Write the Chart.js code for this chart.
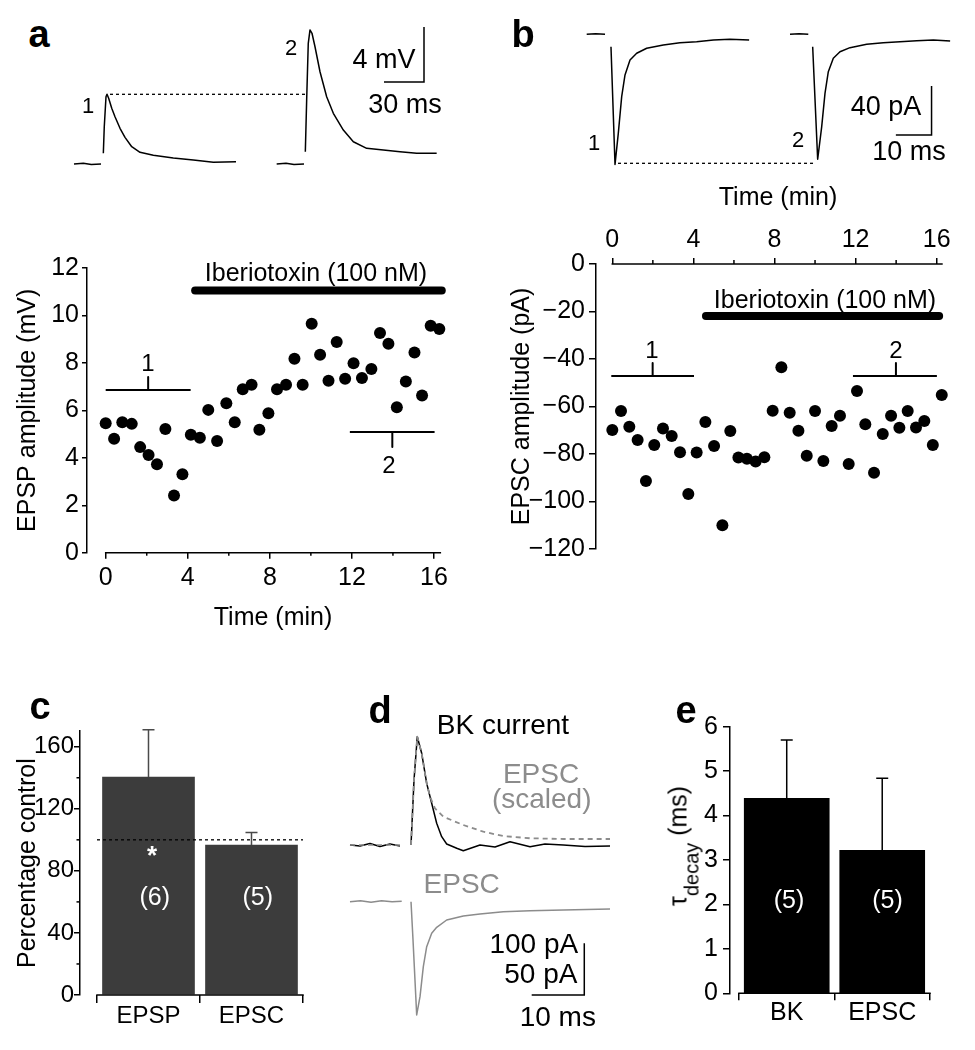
<!DOCTYPE html>
<html><head><meta charset="utf-8">
<script src="https://cdn.jsdelivr.net/npm/chart.js@4.4.1/dist/chart.umd.min.js"></script>
<style>
html,body{margin:0;padding:0;background:#fff}
body{width:975px;height:1050px;position:relative;overflow:hidden;font-family:"Liberation Sans",Arial,Helvetica,sans-serif}
canvas{position:absolute}
.t{position:absolute;transform:translate(-50%,-50%);white-space:nowrap;line-height:1;font-size:25px;color:#000;z-index:5}
.L{font-weight:bold;font-size:38px}
.w{color:#fff}
.g{color:#8c8c8c}
.s{font-size:27px}
.d{font-size:28px}
</style></head><body>

<div class="t L" style="left:39px;top:33.7px">a</div>
<div class="t L" style="left:523px;top:34px">b</div>
<div class="t L" style="left:40px;top:705.7px">c</div>
<div class="t L" style="left:380px;top:710px">d</div>
<div class="t L" style="left:686px;top:709.7px">e</div>

<div class="t" style="left:88px;top:106px;font-size:22px">1</div>
<div class="t" style="left:291px;top:48px;font-size:22px">2</div>
<div class="t s" style="left:384px;top:59px">4 mV</div>
<div class="t s" style="left:405px;top:104px">30 ms</div>
<div class="t" style="left:316px;top:271.5px">Iberiotoxin (100 nM)</div>
<div class="t" style="left:148px;top:363px;font-size:24px">1</div>
<div class="t" style="left:389px;top:465px;font-size:24px">2</div>

<div class="t" style="left:594px;top:143px;font-size:22px">1</div>
<div class="t" style="left:798px;top:140px;font-size:22px">2</div>
<div class="t s" style="left:886px;top:106px">40 pA</div>
<div class="t s" style="left:909px;top:151px">10 ms</div>
<div class="t" style="left:825px;top:299px">Iberiotoxin (100 nM)</div>
<div class="t" style="left:652px;top:350px;font-size:24px">1</div>
<div class="t" style="left:896px;top:350px;font-size:24px">2</div>

<div class="t w" style="left:152px;top:855px;font-size:26px;font-weight:bold">*</div>
<div class="t w" style="left:154.7px;top:896px">(6)</div>
<div class="t w" style="left:257.8px;top:896px">(5)</div>

<div class="t d" style="left:503px;top:725px">BK current</div>
<div class="t d g" style="left:541px;top:774px">EPSC</div>
<div class="t d g" style="left:541.7px;top:799px">(scaled)</div>
<div class="t d g" style="left:461.7px;top:884px">EPSC</div>
<div class="t d" style="left:533.8px;top:944px">100 pA</div>
<div class="t d" style="left:540.8px;top:974px">50 pA</div>
<div class="t d" style="left:557.8px;top:1016.7px">10 ms</div>

<div class="t w" style="left:789px;top:899px">(5)</div>
<div class="t w" style="left:887.5px;top:899px">(5)</div>
<div class="t" style="left:678px;top:846px;transform:translate(-50%,-50%) rotate(-90deg)">τ<span style="font-size:20px;position:relative;top:12px">decay</span> (ms)</div>

<script>
// ---------- DATA ----------
// Panel a: EPSP amplitude vs time
const timeA = [0,0.41,0.81,1.27,1.68,2.09,2.50,2.91,3.33,3.74,4.15,4.59,5.00,5.43,5.88,6.29,6.68,7.11,7.49,7.93,8.35,8.79,9.20,9.60,10.04,10.45,10.86,11.26,11.67,12.08,12.49,12.95,13.37,13.78,14.19,14.63,15.05,15.42,15.84,16.26];
const epspA = [5.46,4.80,5.50,5.43,4.45,4.12,3.73,5.21,2.41,3.31,4.97,4.85,6.02,4.71,6.30,5.50,6.89,7.08,5.18,5.88,6.89,7.08,8.17,7.08,9.65,8.34,7.25,8.88,7.33,7.99,7.36,7.74,9.26,8.81,6.13,7.22,8.44,6.63,9.57,9.43];
const ticksA = [0,4,8,12,16];
const minorA = [2,6,10,14];
const ibtxA = [[4.36,11.05],[16.38,11.05]];
const brk1A = [[0,6.86],[2.07,6.86],[2.07,7.41],[2.07,6.86],[4.14,6.86]];
const brk2A = [[11.9,5.09],[13.97,5.09],[13.97,4.46],[13.97,5.09],[16.03,5.09]];

// Panel b: EPSC amplitude vs time
const timeB = [0,0.43,0.84,1.25,1.66,2.07,2.50,2.93,3.34,3.75,4.16,4.59,5.02,5.43,5.82,6.22,6.64,7.07,7.50,7.91,8.34,8.75,9.18,9.59,10.00,10.41,10.82,11.23,11.66,12.07,12.48,12.91,13.34,13.75,14.16,14.57,14.98,15.39,15.81,16.25];
const epscB = [-69.9,-61.9,-68.5,-74.1,-91.4,-76.2,-69.3,-72.4,-79.3,-96.8,-79.4,-66.5,-76.6,-110.0,-70.3,-81.5,-82.0,-83.2,-81.4,-61.8,-43.5,-62.6,-70.2,-80.7,-61.9,-82.9,-68.2,-63.9,-84.2,-53.5,-67.5,-87.9,-71.6,-63.9,-68.9,-61.9,-68.8,-66.1,-76.2,-55.2];
const ticksB = [0,4,8,12,16];
const minorB = [2,6,10,14];
const ibtxB = [[4.62,-21.9],[16.12,-21.9]];
const brk1B = [[-0.05,-47.2],[1.99,-47.2],[1.99,-41.7],[1.99,-47.2],[4.03,-47.2]];
const brk2B = [[11.87,-47.2],[13.99,-47.2],[13.99,-41.7],[13.99,-47.2],[16.01,-47.2]];

// Panel a traces (ms, mV)
const a1Pre = [[0,0],[7,0.05],[13,-0.03],[20.25,0]];
const a1 = [[22.0,0.78],[22.7,2.71],[24.0,4.89],[24.75,5.07],[26.0,4.78],[28.3,4.05],[30.75,3.44],[34.5,2.60],[38.25,1.94],[43.3,1.26],[49.5,0.85],[59.5,0.63],[74.5,0.44],[89.5,0.29],[104.5,0.12],[121.5,0.17]];
const a2Pre = [[152,0],[159,0.05],[165,-0.03],[172.5,0]];
const a2 = [[173.5,0.89],[174.5,4.65],[175.7,8.78],[177.0,9.75],[178.5,9.51],[180.75,8.53],[184.5,6.71],[189.5,4.89],[194.5,3.69],[202.0,2.47],[209.5,1.62],[219.5,1.14],[232.0,1.02],[244.5,0.89],[257.0,0.78],[272.0,0.78]];
const aDot = [[27,5.07],[173.25,5.07]];
const aScale = [[232.5,5.96],[262.5,5.96],[262.5,9.96]]; // 30 ms, 4 mV

// Panel b traces (ms, pA)
const b1Pre = [[0,0],[2.5,0.4],[5.13,0]];
const b1 = [[6.8,-10.1],[7.93,-106.3],[8.85,-80.8],[9.8,-50.9],[10.73,-33.2],[12.13,-21.0],[14.0,-15.5],[16.8,-11.4],[21.46,-8.7],[26.1,-6.9],[30.8,-6.0],[35.5,-4.65],[40.1,-4.1],[45.5,-4.65]];
const b2Pre = [[56.95,0],[59.5,0.4],[62.07,0]];
const b2 = [[63.3,-10.1],[64.7,-102.0],[65.83,-75.4],[66.75,-48.2],[67.68,-30.5],[69.08,-19.6],[70.95,-14.2],[73.75,-10.9],[78.43,-8.2],[83.08,-6.9],[87.76,-6.0],[92.44,-5.2],[97.1,-4.65],[101.8,-5.5]];
const bDot = [[8.77,-105.3],[63.95,-105.3]];
const bScale = [[86.6,-82.2],[96.6,-82.2],[96.6,-42.2]]; // 10 ms, 40 pA

// Panel c: percentage of control
const pctCats = ['EPSP','EPSC'];
const pctMean = [140.5,96.6];
const pctErr = [30.5,8.2];
const pctTicks = [0,40,80,120,160];
const pctMinor = [20,60,100,140];

// Panel d traces (ms; BK pA / EPSC pA)
const dBKPre = [[0,0],[1.9,-1.9],[3.8,2.9],[5.7,-2.9],[7.6,1.9],[9.5,-1.9]];
const dBK = [[11.6,0],[12.17,125.7],[12.79,209.5],[13.63,177.4],[14.58,119.3],[15.53,80.7],[16.48,42.0],[17.43,16.1],[18.38,1.9],[20.29,-6.4],[21.54,-11.0],[24.71,0],[27.57,-3.9],[30.42,6.4],[34.22,-3.3],[37.07,1.9],[40.55,0],[44.68,-2.9],[49.43,-1.9]];
const dScaledPre = [[0,0],[9.5,0]];
const dScaled = [[11.6,0],[12.17,125.7],[12.79,209.5],[13.63,177.4],[14.58,119.3],[15.21,93.4],[16.16,71.0],[17.74,54.7],[21.54,38.7],[25.34,25.7],[29.14,17.4],[34.22,13.0],[40.55,11.6],[49.43,11.6]];
const dEPSCPre = [[0,0],[2,1],[4,-0.5],[6,0.8],[8,0],[9.83,0.5]];
const dEPSC = [[11.6,0],[11.98,-37.0],[12.68,-109.6],[13.31,-91.9],[13.94,-62.9],[14.58,-43.5],[15.53,-30.6],[16.48,-24.8],[18.38,-17.7],[21.54,-13.8],[24.71,-11.9],[29.14,-9.7],[34.22,-8.7],[40.55,-8.0],[49.43,-7.1]];
const dScale = [[34.54,-90.2],[44.54,-90.2],[44.54,-40.2]]; // 10 ms, 50 pA (EPSC)

// Panel e: decay time constants
const tauCats = ['BK','EPSC'];
const tauMean = [4.39,3.22];
const tauErr = [1.31,1.62];

// ---------- HELPERS ----------
const FONT = '"Liberation Sans", Arial, Helvetica, sans-serif';
Chart.defaults.font.family = FONT;
Chart.defaults.font.size = 25;
Chart.defaults.color = '#000';
Chart.defaults.animation = false;
Chart.defaults.responsive = false;
Chart.defaults.maintainAspectRatio = false;
Chart.defaults.plugins.legend.display = false;
Chart.defaults.plugins.tooltip.enabled = false;
Chart.defaults.events = [];

const axisDeco = {
  id: 'axisDeco',
  afterDraw(chart, args, o) {
    const ctx = chart.ctx;
    ctx.save();
    ctx.strokeStyle = '#000';
    ctx.lineWidth = 1.5;
    (o.lines || []).forEach(l => {
      const s = chart.scales[l.axis];
      const y = s.position === 'top' ? s.bottom : s.top;
      ctx.beginPath();
      ctx.moveTo(s.getPixelForValue(l.from) - 0.75, y);
      ctx.lineTo(s.getPixelForValue(l.to) + 0.75, y);
      ctx.stroke();
    });
    (o.minor || []).forEach(m => {
      const s = chart.scales[m.axis];
      m.values.forEach(v => {
        const p = s.getPixelForValue(v);
        ctx.beginPath();
        if (s.isHorizontal()) {
          const y = s.position === 'top' ? s.bottom : s.top;
          const d = s.position === 'top' ? -m.len : m.len;
          ctx.moveTo(p, y); ctx.lineTo(p, y + d);
        } else {
          ctx.moveTo(s.right, p); ctx.lineTo(s.right - m.len, p);
        }
        ctx.stroke();
      });
    });
    ctx.restore();
  }
};
const errBars = {
  id: 'errBars',
  afterDatasetsDraw(chart, args, o) {
    if (!o.err) return;
    const meta = chart.getDatasetMeta(0);
    const ys = chart.scales.y;
    const ctx = chart.ctx;
    ctx.save();
    ctx.strokeStyle = o.color; ctx.lineWidth = o.width;
    meta.data.forEach((el, i) => {
      const v = chart.data.datasets[0].data[i].y;
      const top = ys.getPixelForValue(v + o.err[i]);
      ctx.beginPath();
      ctx.moveTo(el.x, el.y); ctx.lineTo(el.x, top);
      ctx.moveTo(el.x - o.cap, top); ctx.lineTo(el.x + o.cap, top);
      ctx.stroke();
    });
    ctx.restore();
  }
};
Chart.register(axisDeco, errBars);

function mk(left, top, w, h) {
  const c = document.createElement('canvas');
  c.width = w; c.height = h;
  c.style.left = left + 'px'; c.style.top = top + 'px';
  c.style.width = w + 'px'; c.style.height = h + 'px';
  document.body.insertBefore(c, document.body.firstChild);
  return c.getContext('2d');
}
function ln(pairs, color, width, extra) {
  return Object.assign({
    data: pairs.map(p => ({x: p[0], y: p[1]})),
    showLine: true, pointRadius: 0, borderColor: color, backgroundColor: color,
    borderWidth: width, fill: false, tension: 0, clip: false,
    borderJoinStyle: 'round'
  }, extra || {});
}
function pts(xs, ys) {
  return {data: xs.map((x, i) => ({x, y: ys[i]})), pointRadius: 6, pointBackgroundColor: '#000',
          backgroundColor: '#000', pointBorderWidth: 0, borderWidth: 0, clip: false, showLine: false};
}
const gridT = (len) => ({display: true, drawOnChartArea: false, drawTicks: true, tickLength: len, color: '#000', tickColor: '#000', tickWidth: 1.5, lineWidth: 1.5});
const tickFont = (sz) => ({size: sz || 25, lineHeight: 1});
const setTicks = (arr) => (s) => { s.ticks = arr.map(v => ({value: v})); };
const minus = v => v < 0 ? '\u2212' + Math.abs(v) : String(v);
const hidden = (min, max, extra) => Object.assign({type: 'linear', display: false, min, max}, extra || {});

// ---------- PANEL a : traces ----------
new Chart(mk(60, 0, 410, 190), {
  type: 'scatter',
  data: {datasets: [
    ln(a1Pre, '#000', 1.5), ln(a1, '#000', 1.5), ln(a2Pre, '#000', 1.5), ln(a2, '#000', 1.5),
    ln(aDot, '#000', 1.3, {borderDash: [3, 3]}),
    ln(aScale, '#000', 1.5, {borderJoinStyle: 'miter'})
  ]},
  options: {layout: {padding: 0}, scales: {x: hidden(-10.5, 297), y: hidden(-1.89, 11.93)}}
});

// ---------- PANEL a : time course ----------
new Chart(mk(0, 240, 480, 400), {
  type: 'scatter',
  data: {datasets: [
    pts(timeA, epspA),
    ln(ibtxA, '#000', 8, {borderCapStyle: 'round'}),
    ln(brk1A, '#000', 2), ln(brk2A, '#000', 2)
  ]},
  options: {
    layout: {padding: {left: 0, top: 28, right: 21, bottom: 9.5}},
    scales: {
      x: {type: 'linear', min: -0.911, max: 17.22, afterFit: s => { s.height = 77.8; }, afterBuildTicks: setTicks(ticksA),
          border: {display: false}, grid: gridT(6), ticks: {padding: 6.5, font: tickFont()},
          title: {display: true, text: 'Time (min)', font: {size: 25, lineHeight: 1}, padding: {top: 0, bottom: 0}}},
      y: {type: 'linear', min: 0, max: 12, afterFit: s => { s.width = 87; }, ticks: {stepSize: 2, padding: 3, font: tickFont()},
          border: {display: true, color: '#000', width: 1.5}, grid: gridT(5),
          title: {display: true, text: 'EPSP amplitude (mV)', font: {size: 25, lineHeight: 1}, padding: {top: 15.5, bottom: 0}}}
    },
    plugins: {axisDeco: {lines: [{axis: 'x', from: 0, to: 16.31}], minor: [{axis: 'x', values: minorA, len: 3}]}}
  }
});

// ---------- PANEL b : traces ----------
new Chart(mk(560, 0, 415, 185), {
  type: 'scatter',
  data: {datasets: [
    ln(b1Pre, '#000', 1.5), ln(b1, '#000', 1.5), ln(b2Pre, '#000', 1.5), ln(b2, '#000', 1.5),
    ln(bDot, '#000', 1.3, {borderDash: [3, 3]}),
    ln(bScale, '#000', 1.5, {borderJoinStyle: 'miter'})
  ]},
  options: {layout: {padding: 0}, scales: {x: hidden(-7.48, 108.77), y: hidden(-123.0, 28.0)}}
});

// ---------- PANEL b : time course ----------
new Chart(mk(480, 180, 495, 390), {
  type: 'scatter',
  data: {datasets: [
    pts(timeB, epscB),
    ln(ibtxB, '#000', 8, {borderCapStyle: 'round'}),
    ln(brk1B, '#000', 2), ln(brk2B, '#000', 2)
  ]},
  options: {
    layout: {padding: {left: 0, top: 0, right: 15, bottom: 21}},
    scales: {
      x: {type: 'linear', position: 'top', min: -0.804, max: 17.15, afterFit: s => { s.height = 84; }, afterBuildTicks: setTicks(ticksB),
          border: {display: false}, grid: gridT(6), ticks: {padding: 5.5, font: tickFont()},
          title: {display: true, text: 'Time (min)', font: {size: 25, lineHeight: 1}, padding: {top: 5.5, bottom: 0}}},
      y: {type: 'linear', min: -120, max: 0, afterFit: s => { s.width = 116; }, ticks: {stepSize: 20, padding: 4, font: tickFont(), callback: minus},
          border: {display: true, color: '#000', width: 1.5}, grid: gridT(7),
          title: {display: true, text: 'EPSC amplitude (pA)', font: {size: 25, lineHeight: 1}, padding: {top: 29.5, bottom: 0}}}
    },
    plugins: {axisDeco: {lines: [{axis: 'x', from: 0, to: 16.26}], minor: [{axis: 'x', values: minorB, len: 4}]}}
  }
});

// ---------- PANEL c : bars ----------
new Chart(mk(0, 700, 330, 345), {
  type: 'bar',
  data: {datasets: [
    {type: 'bar', data: pctMean.map((v, i) => ({x: i + 0.5, y: v})), backgroundColor: '#3c3c3c', barThickness: 92, order: 2, borderWidth: 0},
    Object.assign(ln([[0, 100], [2, 100]], '#000', 1.3, {borderDash: [3, 3]}), {type: 'line', order: 0})
  ]},
  options: {
    layout: {padding: {left: 0, top: 31.2, right: 20, bottom: 0}},
    scales: {
      x: {type: 'linear', offset: false, min: -0.165, max: 2.068, afterFit: s => { s.height = 50; },
          afterBuildTicks: setTicks([0.5, 1.5]), border: {display: false},
          grid: Object.assign(gridT(8), {offset: true}),
          ticks: {padding: 1.5, font: tickFont(24), callback: (v) => pctCats[Math.round(v - 0.5)]}},
      y: {type: 'linear', min: 0, max: 170, afterFit: s => { s.width = 80; }, afterBuildTicks: setTicks(pctTicks),
          ticks: {padding: 0, font: tickFont(24)}, border: {display: true, color: '#000', width: 1.5}, grid: gridT(6),
          title: {display: true, text: 'Percentage control', font: {size: 25, lineHeight: 1}, padding: {top: 15.5, bottom: 0}}}
    },
    plugins: {
      axisDeco: {lines: [{axis: 'x', from: 0, to: 2}], minor: [{axis: 'y', values: pctMinor, len: 3.5}]},
      errBars: {err: pctErr, color: '#4a4a4a', width: 1.5, cap: 6}
    }
  }
});

// ---------- PANEL d : traces ----------
new Chart(mk(340, 700, 290, 340), {
  type: 'scatter',
  data: {datasets: [
    ln(dScaledPre, '#8c8c8c', 1.5, {borderDash: [5, 4]}),
    ln(dScaled, '#8c8c8c', 1.8, {borderDash: [5, 4]}),
    ln(dBKPre, '#000', 1.5), ln(dBK, '#000', 1.5),
    ln(dEPSCPre, '#8c8c8c', 1.5, {yAxisID: 'y2'}), ln(dEPSC, '#8c8c8c', 1.5, {yAxisID: 'y2'}),
    ln(dScale, '#000', 1.5, {yAxisID: 'y2', borderJoinStyle: 'miter'})
  ]},
  options: {layout: {padding: 0}, scales: {x: hidden(-1.90, 53.23), y: hidden(-377.2, 280.5), y2: hidden(-133.8, 195.1, {position: 'right'})}}
});

// ---------- PANEL e : bars ----------
new Chart(mk(630, 700, 345, 345), {
  type: 'bar',
  data: {datasets: [
    {type: 'bar', data: tauMean.map((v, i) => ({x: i + 0.5, y: v})), backgroundColor: '#000', barThickness: 85, borderWidth: 0}
  ]},
  options: {
    layout: {padding: {left: 0, top: 26.7, right: 35, bottom: 0}},
    scales: {
      x: {type: 'linear', offset: false, min: -0.094, max: 2.105, afterFit: s => { s.height = 51.7; },
          afterBuildTicks: setTicks([0.5, 1.5]), border: {display: false},
          grid: Object.assign(gridT(7), {offset: true}),
          ticks: {padding: 0, font: tickFont(), callback: (v) => tauCats[Math.round(v - 0.5)]}},
      y: {type: 'linear', min: 0, max: 6, afterFit: s => { s.width = 100; }, ticks: {stepSize: 1, padding: 5, font: tickFont()},
          border: {display: true, color: '#000', width: 1.5}, grid: gridT(7), title: {display: false}}
    },
    plugins: {
      axisDeco: {lines: [{axis: 'x', from: 0, to: 2}]},
      errBars: {err: tauErr, color: '#000', width: 1.5, cap: 6}
    }
  }
});
</script>
</body></html>
